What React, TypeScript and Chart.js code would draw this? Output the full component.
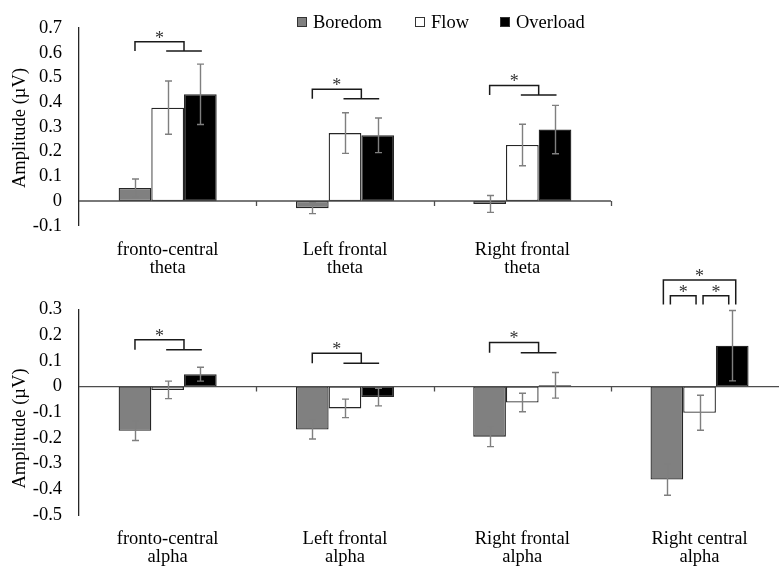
import React, { useEffect, useRef } from "react";
import { Chart, registerables } from "chart.js";

Chart.register(...registerables);

// ---------- data ----------
const seriesNames = ["Boredom", "Flow", "Overload"];
const seriesColors = ["#808080", "#ffffff", "#000000"];

const thetaCategories = [
  ["fronto-central", "theta"],
  ["Left frontal", "theta"],
  ["Right frontal", "theta"],
];
const thetaBoredom = [0.053, -0.029, -0.012];
const thetaFlow = [0.378, 0.275, 0.227];
const thetaOverload = [0.432, 0.266, 0.289];
const thetaBoredomErr = [0.036, 0.022, 0.034];
const thetaFlowErr = [0.108, 0.082, 0.084];
const thetaOverloadErr = [0.122, 0.07, 0.098];
const thetaAxis = { min: -0.1, max: 0.7, step: 0.1 };

const alphaCategories = [
  ["fronto-central", "alpha"],
  ["Left frontal", "alpha"],
  ["Right frontal", "alpha"],
  ["Right central", "alpha"],
];
const alphaBoredom = [-0.172, -0.167, -0.195, -0.362];
const alphaFlow = [-0.013, -0.085, -0.062, -0.102];
const alphaOverload = [0.048, -0.041, 0.005, 0.159];
const alphaBoredomErr = [0.038, 0.037, 0.039, 0.061];
const alphaFlowErr = [0.034, 0.036, 0.036, 0.068];
const alphaOverloadErr = [0.027, 0.034, 0.05, 0.137];
const alphaAxis = { min: -0.5, max: 0.3, step: 0.1 };

// significance brackets (values in µV): "group" = Boredom vs Flow & Overload, "pair" = series a vs b
const thetaBrackets = [
  { cat: 0, kind: "group", from: 0, to: 2, top: 0.645, foot: 0.607 },
  { cat: 1, kind: "group", from: 0, to: 2, top: 0.452, foot: 0.414 },
  { cat: 2, kind: "group", from: 0, to: 2, top: 0.468, foot: 0.429 },
];
const alphaBrackets = [
  { cat: 0, kind: "group", from: 0, to: 2, top: 0.182, foot: 0.143 },
  { cat: 1, kind: "group", from: 0, to: 2, top: 0.13, foot: 0.091 },
  { cat: 2, kind: "group", from: 0, to: 2, top: 0.172, foot: 0.132 },
  { cat: 3, kind: "pair", from: 0, to: 2, top: 0.415, foot: 0.319 },
  { cat: 3, kind: "pair", from: 0, to: 1, top: 0.354, foot: 0.319 },
  { cat: 3, kind: "pair", from: 1, to: 2, top: 0.354, foot: 0.319 },
];

const yTitle = "Amplitude (µV)";

// ---------- styling ----------
const FONT = "'Liberation Serif', 'Times New Roman', serif";
const FS = 18.5;

const decoPlugin = {
  id: "panelDeco",
  afterDatasetsDraw(chart: any, _args: any, opts: any) {
    const ctx = chart.ctx;
    const xs = chart.scales.x;
    const ys = chart.scales.y;
    const area = chart.chartArea;
    const n = chart.data.labels.length;
    const catW = (area.right - area.left) / n;
    const y0 = ys.getPixelForValue(0);
    ctx.save();

    // zero axis line + category tick marks
    ctx.strokeStyle = "#4d4d4d";
    ctx.lineWidth = 1.3;
    ctx.beginPath();
    ctx.moveTo(area.left, y0);
    ctx.lineTo(area.right, y0);
    for (let i = 0; i < n; i++) {
      const bx = Math.round(xs.getPixelForValue(i) + catW / 2) + 0.5;
      ctx.moveTo(bx, y0);
      ctx.lineTo(bx, y0 + 5);
    }
    ctx.stroke();

    // error bars
    ctx.strokeStyle = "#7f7f7f";
    ctx.lineWidth = 1.4;
    const errs = opts.errors || [];
    chart.data.datasets.forEach((ds: any, d: number) => {
      const meta = chart.getDatasetMeta(d);
      meta.data.forEach((el: any, j: number) => {
        const v = ds.data[j];
        const e = errs[d][j];
        const x = Math.round(el.x) + 0.5;
        const yh = ys.getPixelForValue(v + e);
        const yl = ys.getPixelForValue(v - e);
        ctx.beginPath();
        ctx.moveTo(x, yh);
        ctx.lineTo(x, yl);
        ctx.moveTo(x - 3.5, yh);
        ctx.lineTo(x + 3.5, yh);
        ctx.moveTo(x - 3.5, yl);
        ctx.lineTo(x + 3.5, yl);
        ctx.stroke();
      });
    });

    // significance brackets
    const barX = (d: number, c: number) => chart.getDatasetMeta(d).data[c].x;
    ctx.strokeStyle = "#1a1a1a";
    ctx.lineWidth = 1.5;
    ctx.fillStyle = "#333";
    ctx.font = `18px ${FONT}`;
    ctx.textAlign = "center";
    const star = (cx: number, lineY: number) => {
      const m = ctx.measureText("*");
      const cy = lineY - 7.5;
      const base = cy + (m.actualBoundingBoxAscent - m.actualBoundingBoxDescent) / 2;
      ctx.textBaseline = "alphabetic";
      ctx.fillText("*", cx, base);
    };
    (opts.brackets || []).forEach((b: any) => {
      const top = ys.getPixelForValue(b.top);
      const foot = ys.getPixelForValue(b.foot);
      ctx.beginPath();
      if (b.kind === "group") {
        const xb = barX(0, b.cat);
        const xf = barX(1, b.cat);
        const xo = barX(2, b.cat);
        const xm = (xf + xo) / 2;
        ctx.moveTo(xb, foot);
        ctx.lineTo(xb, top);
        ctx.lineTo(xm, top);
        ctx.lineTo(xm, foot);
        ctx.moveTo(xf - 1.5, foot);
        ctx.lineTo(xo + 1.5, foot);
        ctx.stroke();
        star((xb + xm) / 2, top);
      } else {
        const d = b.to - b.from === 2 ? -3.5 : 3.5;
        const x1 = barX(b.from, b.cat) + d;
        const x2 = barX(b.to, b.cat) - d;
        ctx.moveTo(x1, foot);
        ctx.lineTo(x1, top);
        ctx.lineTo(x2, top);
        ctx.lineTo(x2, foot);
        ctx.stroke();
        star((x1 + x2) / 2, top);
      }
    });

    // y-axis title
    ctx.fillStyle = "#000";
    ctx.font = `${FS}px ${FONT}`;
    ctx.save();
    ctx.translate(20, opts.titleY);
    ctx.rotate(-Math.PI / 2);
    ctx.textAlign = "center";
    ctx.textBaseline = "middle";
    ctx.fillText(yTitle, 0, 0);
    ctx.restore();

    // legend
    if (opts.legend) {
      const itemX = [297, 415, 500];
      chart.data.datasets.forEach((ds: any, d: number) => {
        const x = itemX[d];
        ctx.fillStyle = ds.backgroundColor;
        ctx.fillRect(x, 17, 10, 10);
        ctx.strokeStyle = "#333";
        ctx.lineWidth = 1;
        ctx.strokeRect(x + 0.5, 17.5, 9, 9);
        ctx.fillStyle = "#000";
        ctx.textAlign = "left";
        ctx.textBaseline = "alphabetic";
        ctx.fillText(ds.label, x + 16, 27.5);
      });
    }
    ctx.restore();
  },
};

function buildConfig(p: any): any {
  return {
    type: "bar",
    data: {
      labels: p.labels,
      datasets: seriesNames.map((name, i) => ({
        label: name,
        data: p.values[i],
        backgroundColor: seriesColors[i],
        borderColor: "#262626",
        borderWidth: 1.3,
        borderSkipped: false,
        categoryPercentage: 0.553,
        barPercentage: 1,
      })),
    },
    options: {
      responsive: false,
      animation: false,
      events: [],
      layout: { padding: p.padding },
      plugins: {
        legend: { display: false },
        tooltip: { enabled: false },
        panelDeco: {
          errors: p.errors,
          brackets: p.brackets,
          legend: p.legend,
          titleY: p.titleY,
        },
      },
      scales: {
        x: {
          grid: { display: false, drawTicks: false },
          border: { display: false },
          ticks: {
            color: "#000",
            padding: 15,
            maxRotation: 0,
            autoSkip: false,
            font: { family: FONT, size: FS, lineHeight: "18px" },
          },
          afterFit: (s: any) => {
            s.height = p.xHeight;
          },
        },
        y: {
          min: p.axis.min,
          max: p.axis.max,
          grid: { display: false, drawTicks: false },
          border: { display: true, color: "#262626", width: 1.3 },
          ticks: {
            stepSize: p.axis.step,
            autoSkip: false,
            color: "#000",
            padding: 17,
            font: { family: FONT, size: FS },
            callback: (v: number) => {
              const r = Math.round(v * 10) / 10;
              return r === 0 ? "0" : String(r);
            },
          },
          afterFit: (s: any) => {
            s.width = 79;
          },
        },
      },
    },
    plugins: [decoPlugin],
  };
}

export default function App() {
  const topRef = useRef<HTMLCanvasElement>(null);
  const botRef = useRef<HTMLCanvasElement>(null);

  useEffect(() => {
    const top = new Chart(
      topRef.current!,
      buildConfig({
        labels: thetaCategories,
        values: [thetaBoredom, thetaFlow, thetaOverload],
        errors: [thetaBoredomErr, thetaFlowErr, thetaOverloadErr],
        axis: thetaAxis,
        brackets: thetaBrackets,
        legend: true,
        titleY: 128,
        padding: { top: 20, right: 168, left: 0, bottom: 0 },
        xHeight: 54.3,
      })
    );
    const bot = new Chart(
      botRef.current!,
      buildConfig({
        labels: alphaCategories,
        values: [alphaBoredom, alphaFlow, alphaOverload],
        errors: [alphaBoredomErr, alphaFlowErr, alphaOverloadErr],
        axis: alphaAxis,
        brackets: alphaBrackets,
        legend: false,
        titleY: 178.5,
        padding: { top: 59.5, right: 11.8, left: 0, bottom: 0 },
        xHeight: 51,
      })
    );
    return () => {
      top.destroy();
      bot.destroy();
    };
  }, []);

  return (
    <div
      style={{
        position: "absolute",
        left: 0,
        top: 0,
        width: 779,
        height: 566,
        overflow: "hidden",
        background: "#fff",
      }}
    >
      <canvas ref={topRef} width={779} height={280} style={{ position: "absolute", left: 0, top: 0 }} />
      <canvas ref={botRef} width={800} height={316} style={{ position: "absolute", left: 0, top: 250 }} />
    </div>
  );
}
